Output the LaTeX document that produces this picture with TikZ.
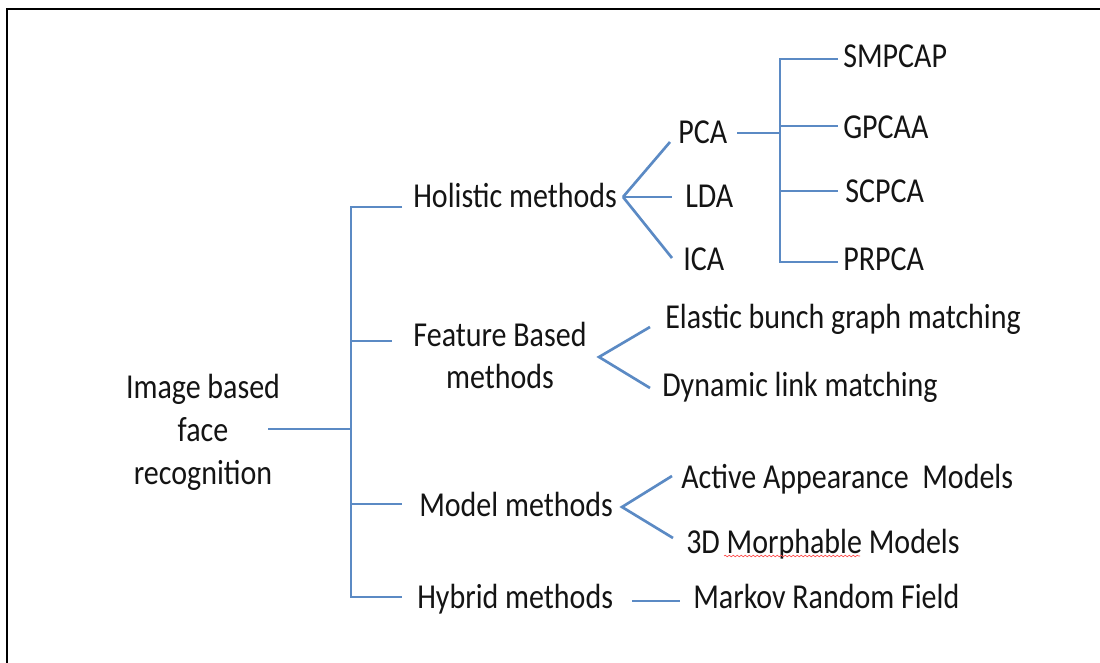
\documentclass[tikz,border=0pt]{standalone}
\usepackage{fontspec}
\usepackage{graphicx}
\setmainfont{Carlito}
\usetikzlibrary{decorations.pathmorphing}
\definecolor{lineblue}{RGB}{91,138,196}
\definecolor{txt}{RGB}{20,20,20}
\newcommand\sq[1]{\scalebox{0.857}[1]{#1}}
\begin{document}
\begin{tikzpicture}[x=0.75pt,y=-0.75pt,
  lbl/.style={inner sep=0pt, text=txt, font=\fontsize{26.25}{32}\selectfont},
  conn/.style={draw=lineblue, line width=2pt},
  frame/.style={draw=black, line width=1.1pt}
]
\useasboundingbox (0,0) rectangle (1100,663);
% frame
\draw[frame] (7,663) -- (7,9) -- (1100,9);

% nodes
\node[lbl] (root) at (203,433) {\sq{\begin{tabular}{@{}c@{}}Image based\\face\\recognition\end{tabular}}};
\node[lbl, anchor=base west] (hol) at (413,208) {\sq{Holistic methods}};
\node[lbl] (feat) at (500,359) {\sq{\begin{tabular}{@{}c@{}}Feature Based\\methods\end{tabular}}};
\node[lbl, anchor=base west] (model) at (419,516) {\sq{Model methods}};
\node[lbl, anchor=base west] (hyb) at (417,608) {\sq{Hybrid methods}};

\node[lbl, anchor=base west] (pca) at (678,144) {\sq{PCA}};
\node[lbl, anchor=base west] (lda) at (685,208) {\sq{LDA}};
\node[lbl, anchor=base west] (ica) at (683,271) {\sq{ICA}};

\node[lbl, anchor=base west] (smpcap) at (843,68) {\sq{SMPCAP}};
\node[lbl, anchor=base west] (gpcaa) at (843,139) {\sq{GPCAA}};
\node[lbl, anchor=base west] (scpca) at (845,203) {\sq{SCPCA}};
\node[lbl, anchor=base west] (prpca) at (843,271) {\sq{PRPCA}};

\node[lbl, anchor=base west] (ebgm) at (665,328) {\sq{Elastic bunch graph matching}};
\node[lbl, anchor=base west] (dlm) at (662,396) {\sq{Dynamic link matching}};

\node[lbl, anchor=base west] (aam) at (681,488) {\sq{Active Appearance\ \ Models}};
\node[lbl, anchor=base west] (mm) at (686,553) {\sq{3D Morphable Models}};
\node[lbl, anchor=base west] (mrf) at (693,608) {\sq{Markov Random Field}};

% spell-check squiggle
\draw[red!70, line width=0.5pt, decorate, decoration={snake, amplitude=0.6pt, segment length=3pt}] (724,556) -- (860,556);

% junction coordinates
\coordinate (rE) at (268,429);
\coordinate (t1) at (351,207);
\coordinate (t2) at (351,341);
\coordinate (t3) at (351,429);
\coordinate (t4) at (351,504);
\coordinate (t5) at (351,597);
\coordinate (hE) at (402,207);
\coordinate (fE) at (392,341);
\coordinate (mE) at (402,504);
\coordinate (yE) at (402,597);

\coordinate (hA) at (623,197);
\coordinate (hP) at (670,142);
\coordinate (hL) at (672,197);
\coordinate (hI) at (672,258);

\coordinate (pS) at (737,133);
\coordinate (pJ) at (780,133);
\coordinate (v1) at (780,59);
\coordinate (v2) at (780,126);
\coordinate (v3) at (780,191);
\coordinate (v4) at (780,262);
\coordinate (e1) at (838,59);
\coordinate (e2) at (838,126);
\coordinate (e3) at (838,191);
\coordinate (e4) at (838,262);

\coordinate (fA) at (599,357);
\coordinate (fU) at (650,327);
\coordinate (fD) at (650,388);

\coordinate (mA) at (622,507);
\coordinate (mU) at (672,476);
\coordinate (mD) at (673,538);

\coordinate (yS) at (632,601);
\coordinate (yT) at (680,601);

% connectors
\draw[conn] (rE) -- (t3);
\draw[conn] (hE) -- (t1) -- (t5) -- (yE);
\draw[conn] (t2) -- (fE);
\draw[conn] (t4) -- (mE);

\draw[conn] (hA) -- (hP);
\draw[conn] (hA) -- (hL);
\draw[conn] (hA) -- (hI);

\draw[conn] (pS) -- (pJ);
\draw[conn] (e1) -- (v1) -- (v4) -- (e4);
\draw[conn] (v2) -- (e2);
\draw[conn] (v3) -- (e3);

\draw[conn] (fU) -- (fA) -- (fD);
\draw[conn] (mU) -- (mA) -- (mD);
\draw[conn] (yS) -- (yT);
\end{tikzpicture}
\end{document}
